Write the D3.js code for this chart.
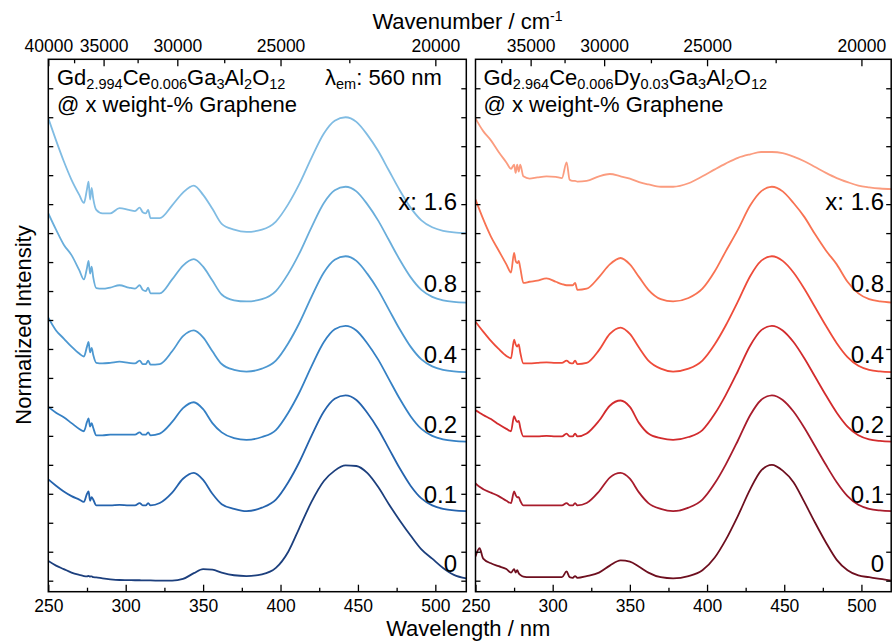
<!DOCTYPE html>
<html><head><meta charset="utf-8">
<script src="https://cdn.jsdelivr.net/npm/d3@7"></script>
<style>
body{margin:0;background:#fff}
svg{display:block}
text{font-family:"Liberation Sans",Arial,sans-serif;fill:#000}
</style>
</head><body>
<svg id="c" width="892" height="641"></svg>
<script>
// ---------------- DATA ----------------
const graphene = ["0", "0.1", "0.2", "0.4", "0.8", "x: 1.6"];
const stackStep = 0.6;

const wlLeft = [250,255,260,265,270,273,275,276,277,278,279,281,285,290,296,302,306,309,311,313,314.5,316,322,330,337,344,350,356,362,370,378,388,397,405,412,420,428,435,442,449,456,463,470,477,484,491,498,505,512,520];

const left0 = [0.17,0.13,0.10,0.07,0.05,0.04,0.037,0.042,0.036,0.038,0.03,
  0.028,0.02,0.012,0.006,0.005,0.004,0.004,0.003,0.003,0.003,0.002,
  0.0,0.0,0.015,0.065,0.10,0.095,0.07,0.047,
  0.04,0.055,0.11,0.25,0.45,0.68,0.86,0.95,0.995,0.99,0.93,0.81,0.66,0.52,0.39,0.27,0.19,0.11,0.05,0.02];
const left01 = [0.275,0.22,0.17,0.13,0.10,0.08,0.15,0.17,0.09,0.12,0.10,
  0.05,0.05,0.05,0.055,0.05,0.05,0.07,0.05,0.05,0.07,0.05,
  0.07,0.16,0.28,0.33,0.27,0.15,0.06,0.02,
  0.0,0.03,0.10,0.25,0.42,0.65,0.86,0.97,1.0,0.96,0.85,0.71,0.54,0.37,0.22,0.11,0.05,0.02,0.006,0.0];
const left02 = [0.30,0.25,0.21,0.16,0.11,0.09,0.17,0.20,0.13,0.16,0.12,
  0.055,0.055,0.06,0.06,0.06,0.06,0.08,0.06,0.06,0.08,0.055,
  0.07,0.17,0.29,0.34,0.28,0.16,0.08,0.03,
  0.015,0.04,0.10,0.25,0.42,0.65,0.86,0.97,1.0,0.96,0.85,0.71,0.54,0.37,0.22,0.11,0.05,0.02,0.006,0.0];
const left04 = [0.47,0.36,0.29,0.22,0.16,0.135,0.22,0.26,0.17,0.21,0.15,
  0.08,0.075,0.08,0.09,0.08,0.075,0.10,0.07,0.07,0.10,0.065,
  0.07,0.18,0.31,0.36,0.30,0.18,0.07,0.02,
  0.005,0.03,0.10,0.25,0.42,0.65,0.86,0.97,1.0,0.96,0.85,0.71,0.54,0.37,0.22,0.11,0.05,0.02,0.006,0.0];
const left08 = [0.77,0.63,0.50,0.41,0.28,0.20,0.30,0.36,0.25,0.31,0.22,
  0.125,0.12,0.13,0.15,0.13,0.12,0.15,0.11,0.10,0.13,0.08,
  0.08,0.20,0.32,0.375,0.31,0.19,0.07,0.02,
  0.01,0.03,0.10,0.25,0.42,0.65,0.86,0.97,1.0,0.96,0.85,0.71,0.54,0.37,0.22,0.11,0.05,0.02,0.006,0.0];
const left16 = [0.99,0.80,0.62,0.46,0.33,0.26,0.38,0.445,0.29,0.39,0.30,
  0.20,0.17,0.17,0.215,0.20,0.19,0.22,0.18,0.17,0.20,0.13,
  0.13,0.24,0.35,0.41,0.33,0.21,0.08,0.03,
  0.01,0.03,0.10,0.25,0.42,0.65,0.86,0.97,1.0,0.96,0.85,0.71,0.54,0.37,0.22,0.11,0.05,0.02,0.006,0.0];

const wlRight = [250,252.6,255,260,265,270,273,275,276,277,278,279,281,285,290,296,302,306,309,311,313,314.5,316,322,330,337,344,350,356,362,370,378,388,397,405,412,420,428,435,442,449,456,463,470,477,484,491,498,505,512,520];

const right0 = [0.21,0.28,0.19,0.15,0.125,0.10,0.07,0.10,0.07,0.09,0.065,0.05,
  0.035,0.03,0.03,0.03,0.03,0.03,0.08,0.03,0.025,0.04,0.025,
  0.04,0.07,0.13,0.175,0.165,0.12,0.07,0.03,
  0.02,0.04,0.09,0.20,0.35,0.56,0.79,0.95,1.0,0.95,0.85,0.68,0.50,0.33,0.18,0.09,0.045,0.03,0.015,0.0];
const right01 = [0.24,0.21,0.19,0.16,0.13,0.09,0.07,0.17,0.14,0.12,0.12,0.09,
  0.05,0.05,0.05,0.05,0.05,0.05,0.07,0.05,0.05,0.07,0.05,
  0.07,0.17,0.29,0.33,0.28,0.16,0.07,0.02,
  0.0,0.03,0.10,0.24,0.40,0.61,0.83,0.96,1.0,0.96,0.86,0.72,0.56,0.40,0.25,0.13,0.055,0.02,0.006,0.0];
const right02 = [0.27,0.25,0.23,0.195,0.15,0.11,0.09,0.22,0.19,0.17,0.18,0.12,
  0.045,0.045,0.045,0.05,0.045,0.045,0.07,0.045,0.045,0.07,0.045,
  0.07,0.18,0.31,0.355,0.30,0.16,0.07,0.03,
  0.015,0.04,0.10,0.24,0.40,0.61,0.83,0.96,1.0,0.96,0.86,0.72,0.56,0.40,0.25,0.13,0.055,0.02,0.006,0.0];
const right04 = [0.435,0.39,0.35,0.27,0.20,0.14,0.12,0.28,0.24,0.22,0.24,0.17,
  0.075,0.075,0.08,0.085,0.08,0.08,0.10,0.08,0.075,0.10,0.07,
  0.08,0.19,0.33,0.385,0.33,0.21,0.10,0.03,
  0.005,0.03,0.10,0.24,0.40,0.61,0.83,0.96,1.0,0.96,0.86,0.72,0.56,0.40,0.25,0.13,0.055,0.02,0.006,0.0];
const right08 = [0.89,0.80,0.72,0.57,0.45,0.33,0.26,0.43,0.36,0.34,0.36,0.30,
  0.17,0.18,0.19,0.21,0.18,0.16,0.15,0.15,0.15,0.17,0.11,
  0.12,0.22,0.33,0.385,0.33,0.22,0.11,0.03,
  0.01,0.04,0.12,0.27,0.44,0.63,0.84,0.96,1.0,0.96,0.86,0.74,0.59,0.45,0.33,0.18,0.08,0.03,0.01,0.0];
const right16 = [0.99,0.93,0.88,0.80,0.70,0.61,0.555,0.59,0.52,0.59,0.53,0.59,
  0.49,0.47,0.48,0.49,0.485,0.475,0.61,0.46,0.45,0.45,0.445,
  0.45,0.49,0.51,0.49,0.47,0.44,0.42,0.40,
  0.40,0.43,0.49,0.55,0.60,0.65,0.68,0.70,0.70,0.69,0.66,0.62,0.57,0.52,0.475,0.44,0.41,0.395,0.385,0.38];

const wlMajor = [250,300,350,400,450,500];
const wlMinor = [275,325,375,425,475];
const wnMajorLeft = [40000,35000,30000,25000,20000];
const wnMajorRight = [35000,30000,25000,20000];
const wnMinor = [37500,32500,27500,22500];
const yTickVals = d3.range(0, 4.5, 0.25);

// ---------------- LAYOUT ----------------
const FONT = '"Liberation Sans",Arial,sans-serif';
const yTop = 59.3, yBot = 591.7;
const y = d3.scaleLinear().domain([-0.095, 4.5]).range([yBot, yTop]);
const svg = d3.select('#c');

const leftColors  = ['#1c3f7d','#2563ad','#3580c4','#4d98d1','#6aaedb','#80bce3'];
const rightColors = ['#6e0f1f','#a81c2c','#d22b2d','#ee4b3a','#f87252','#fb9c7f'];

const panels = [
  {id:'L', x0:48.3, x1:466.3, frameR:466.3, wl:wlLeft, series:[left0,left01,left02,left04,left08,left16],
   colors:leftColors, wnMajor:wnMajorLeft, labelX:457,
   formula:[['Gd',0],['2.994',1],['Ce',0],['0.006',1],['Ga',0],['3',1],['Al',0],['2',1],['O',0],['12',1]], fx:57},
  {id:'R', x0:475.5, x1:892.3, frameR:891.2, wl:wlRight, series:[right0,right01,right02,right04,right08,right16],
   colors:rightColors, wnMajor:wnMajorRight, labelX:884,
   formula:[['Gd',0],['2.964',1],['Ce',0],['0.006',1],['Dy',0],['0.03',1],['Ga',0],['3',1],['Al',0],['2',1],['O',0],['12',1]], fx:483.5}
];
const labelGap = [9, 8, 9, 9, 11, 23];

function richText(g, parts, x, yb, size, subSize) {
  const t = g.append('text').attr('x', x).attr('y', yb).attr('font-size', size);
  let lowered = false;
  parts.forEach(([s, sub]) => {
    const ts = t.append('tspan').text(s);
    if (sub && !lowered) { ts.attr('dy', 3.5).attr('font-size', subSize); lowered = true; }
    else if (sub) { ts.attr('font-size', subSize); }
    else if (!sub && lowered) { ts.attr('dy', -3.5); lowered = false; }
  });
  return t;
}

panels.forEach((p, pi) => {
  const x = d3.scaleLinear().domain([250, 520]).range([p.x0, p.x1]);
  const g = svg.append('g');

  svg.append('clipPath').attr('id', 'clip' + p.id)
    .append('rect').attr('x', p.x0).attr('y', yTop).attr('width', p.frameR - p.x0).attr('height', yBot - yTop);

  // curves
  const line = d3.line().x(d => x(d[0])).y(d => y(d[1])).curve(d3.curveMonotoneX);
  const cg = g.append('g').attr('clip-path', `url(#clip${p.id})`);
  p.series.forEach((s, i) => {
    const pts = p.wl.map((w, k) => [w, s[k] + i * stackStep]);
    cg.append('path').attr('d', line(pts)).attr('fill', 'none')
      .attr('stroke', p.colors[i]).attr('stroke-width', 1.8).attr('stroke-linejoin', 'round');
  });

  // axes (inward ticks)
  const styleAxis = sel => {
    sel.select('.domain').remove();
    sel.attr('font-family', FONT).attr('font-size', 17.5);
    sel.selectAll('line').attr('stroke', '#000').attr('stroke-width', 1.3);
    sel.selectAll('text').attr('fill', '#000');
  };
  g.append('g').attr('transform', `translate(0,${yBot})`)
    .call(d3.axisBottom(x).tickValues(wlMajor).tickSize(-7).tickPadding(7.6).tickFormat(d3.format('d'))).call(styleAxis);
  g.append('g').attr('transform', `translate(0,${yBot})`)
    .call(d3.axisBottom(x).tickValues(wlMinor).tickSize(-4).tickFormat('')).call(styleAxis);
  g.append('g').attr('transform', `translate(0,${yTop})`)
    .call(d3.axisTop(x).tickValues(p.wnMajor.map(w => 1e7 / w)).tickSize(-7).tickPadding(7.6)
      .tickFormat(d => String(Math.round(1e7 / d / 100) * 100))).call(styleAxis);
  g.append('g').attr('transform', `translate(0,${yTop})`)
    .call(d3.axisTop(x).tickValues(wnMinor.map(w => 1e7 / w)).tickSize(-4).tickFormat('')).call(styleAxis);
  g.append('g').attr('transform', `translate(${p.x0},0)`)
    .call(d3.axisLeft(y).tickValues(yTickVals).tickSize(-5).tickFormat('')).call(styleAxis);
  g.append('g').attr('transform', `translate(${p.frameR},0)`)
    .call(d3.axisRight(y).tickValues(yTickVals).tickSize(-5).tickFormat('')).call(styleAxis);

  // frame
  g.append('rect').attr('x', p.x0).attr('y', yTop).attr('width', p.frameR - p.x0).attr('height', yBot - yTop)
    .attr('fill', 'none').attr('stroke', '#000').attr('stroke-width', 1.5);

  // composition legend
  richText(g, p.formula, p.fx, 85, 22, 14.5);
  g.append('text').attr('x', p.fx).attr('y', 112).attr('font-size', 22).text('@ x weight-% Graphene');

  // curve labels
  graphene.forEach((lab, i) => {
    g.append('text').attr('x', p.labelX).attr('y', y(i * stackStep) - labelGap[i])
      .attr('text-anchor', 'end').attr('font-size', 24).text(lab);
  });
});

// excitation note
richText(svg, [['λ',0],['em',1],[': 560 nm',0]], 325, 85, 22, 14.5);

// axis titles
const t1 = svg.append('text').attr('x', 467.5).attr('y', 29).attr('text-anchor', 'middle').attr('font-size', 22);
t1.append('tspan').text('Wavenumber / cm');
t1.append('tspan').attr('dy', -8).attr('font-size', 14).text('-1');
svg.append('text').attr('x', 468.3).attr('y', 636).attr('text-anchor', 'middle').attr('font-size', 22).text('Wavelength / nm');
svg.append('text').attr('transform', 'translate(31,325) rotate(-90)').attr('text-anchor', 'middle').attr('font-size', 22).text('Normalized Intensity');
</script>
</body></html>
